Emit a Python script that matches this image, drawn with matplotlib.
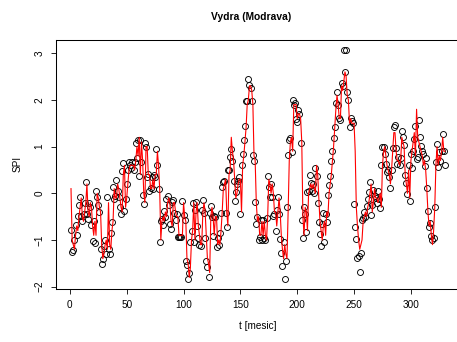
import numpy as np
import matplotlib
matplotlib.use("Agg")
import matplotlib.pyplot as plt

# SPI values for the Vydra (Modrava) station, months 1..330
obs_a = [-0.79, -1.26, -1.22, -1.0, -0.68, -0.9, -0.48, -0.26, -0.09, -0.48,
         -0.6, -0.45, -0.2, 0.24, -0.45, -0.55, -0.2, -0.3, -0.68, -1.03,
         -0.6, -1.06, 0.05, -0.09, -0.25, -0.4, -1.19, -1.52, -1.4, -1.12,
         -1.0, -1.3, -0.09, -1.2, -1.3, -0.85, -0.62, 0.13, -0.12, -0.05,
         0.29, 0.05, -0.08, -0.3, -0.45, 0.48, 0.65, -0.37, -0.13, 0.2,
         0.49, 0.66, 0.6, 0.55, 0.66, 0.5, 0.66, 1.07, 0.75, 1.15,
         0.36, 1.15, 0.66, -0.04, -0.23, 1.07, 1.0, 0.35, 0.42, 0.04,
         0.12, 0.35, 0.1, 0.4, 0.35, 0.94, 0.6, 0.1, -1.04, -0.6,
         -0.55, -0.68, -0.38, -0.5, -0.13, -0.06, -0.25, -0.65, -0.77, -0.18,
         -0.15, -0.43, -0.58, -0.45, -0.94, -0.94, -0.94, -0.94, -0.16, -0.47,
         -0.58, -1.45, -1.54, -1.84, -1.7, -1.04, -0.81, -0.2]
obs_b = [-1.04, -0.35, -0.18, -0.7, -0.96, -1.1, -1.12, -0.35, -0.14, -0.42,
         -0.96, -1.45, -1.57, -1.79, -0.42, -0.27, -0.5, -0.92, -0.48, -0.5,
         -1.15, -0.96, -1.1, -0.84, -0.42, 0.13, 0.25, 0.27, -0.43, -0.72,
         0.49, 0.49, 0.78, 0.95, 0.7, 0.27, -0.16, 0.02, 0.2, 0.27,
         0.35, -0.45, 0.6, 0.85, 1.15, 1.45, 1.97, 1.97, 2.44, 2.33,
         2.25, 1.97, 0.81, 0.7, -0.19, -0.65, -0.5, -1.0]
obs_c = [-0.93, -0.57, -0.99, -0.57, -0.96, -1.0, -0.52, 0.38, 0.13, -0.07,
         0.2, -0.07, -0.48, -0.45, -0.8, -0.36, -0.07, -0.45, -0.97, -1.28,
         -1.56, -1.05, -1.84, -1.45, -0.3, 0.81, 1.15, 1.19, 0.89, 2.0,
         1.9, 1.93, 1.6, 1.52, 1.78, 1.7, 1.07, -0.58, -0.95, -0.3,
         -0.44, -0.83, 0.03, 0.05, 0.4, 0.22, 0.05, 0.2, 0.0, 0.55,
         0.38, -0.2, -0.62, -0.87, -1.13, -0.65, -0.43]
obs_d = [-1.04, -0.45, -0.61, -0.04, 0.17, 0.38, 0.69, 0.9, 1.18, 1.41,
         1.94, 2.16, 1.9, 1.61, 1.58, 2.36, 2.29, 3.07, 2.6, 3.07,
         2.16, 2.0, 1.42, 1.61, 1.54, 1.5, -0.23, -0.72, -0.98, -1.38,
         -1.35, -1.68, -1.27, -0.58, -0.53, -0.4, -0.5, -0.28, -0.13, 0.03,
         0.25, -0.47, -0.26, 0.08, -0.06, -0.1, -0.2, 0.05, -0.13, -0.31,
         0.6, 1.0, 1.0, 0.84, 0.63, 0.45]
obs_e = [0.49, 0.35, 0.11, 0.5, 0.96, 1.43, 1.47, 0.96, 0.63, 0.77,
         0.6, 0.75, 1.33, 1.21, 1.03, 0.39, 0.22, -0.02, 0.6, -0.16,
         0.84, 0.55, 0.91, 1.17, 1.45, 0.74, 0.77, 1.58, 1.21, 1.02,
         0.9, 0.84, 0.58, 0.75, 0.11, -0.37, -0.73, -0.64, -0.92, -1.0,
         -0.95, -0.29, 0.68, 1.05, 0.57, 0.88, 0.7, 0.9, 1.27, 0.9,
         0.6]

# modelled SPI (red line)
mod_a = [0.1, -1.0, -1.1, -1.2, -0.9, -0.7, -0.8, -0.5, -0.3, -0.1,
         -0.5, -0.6, -0.4, -0.2, 0.2, -0.4, -0.5, -0.2, -0.3, -0.7,
         -0.9, -0.6, -0.9, 0.0, -0.1, -0.3, -0.4, -1.1, -1.4, -1.3,
         -1.1, -1.0, -1.2, -0.2, -1.1, -1.2, -0.8, -0.6, 0.1, -0.1,
         -0.1, 0.2, 0.1, -0.1, -0.3, -0.4, 0.4, 0.6, -0.3, -0.1,
         0.2, 0.5, 0.6, 0.6, 0.6, 0.6, 0.5, 0.7, 1.0, 0.8,
         1.2, 0.4, 1.1, 0.7, 0.0, -0.2, 1.0, 1.0, 0.4, 0.4,
         0.1, 0.1, 0.3, 0.1, 0.4, 0.4, 0.9, 0.6, 0.1, -1.0,
         -0.6, -0.5, -0.6, -0.4, -0.5, -0.2, -0.1, -0.2, -0.6, -0.7,
         -0.2, -0.2, -0.4, -0.5, -0.5, -0.9, -0.9, -0.9, -0.9, -0.2,
         -0.5, -0.6, -1.4, -1.5, -1.8, -1.6, -1.0, -0.8]
mod_b = [-0.2, -1.0, -0.4, -0.2, -0.7, -0.9, -1.1, -1.1, -0.4, -0.2,
         -0.4, -0.9, -1.4, -1.5, -1.7, -0.5, -0.3, -0.5, -0.9, -0.5,
         -0.5, -1.1, -1.0, -1.1, -0.8, -0.4, 0.1, 0.2, 0.3, -0.4,
         -0.7, 0.4, 0.5, 1.2, 0.9, 0.7, 0.3, -0.1, 0.0, 0.2,
         0.3, 0.3, -0.4, 0.6, 0.8, 1.1, 1.4, 1.9, 2.0, 2.3,
         2.3, 2.2, 1.9, 0.8, 0.7, -0.2, -0.6, -0.5]
mod_c = [-0.9, -0.9, -0.6, -0.9, -0.6, -0.9, -1.0, -0.5, 0.3, 0.2,
         0.0, 0.2, 0.0, -0.4, -0.4, -0.7, -0.4, -0.1, -0.4, -0.9,
         -1.2, -1.4, -1.1, -1.3, -1.4, -0.4, 0.7, 1.1, 1.2, 0.9,
         1.9, 1.9, 1.9, 1.6, 1.7, 1.7, 1.6, 1.1, -0.5, -0.9,
         -0.3, -0.4, -0.8, 0.0, 0.1, 0.2, 0.1, 0.2, 0.1, 0.0,
         0.6, 0.4, -0.1, -0.6, -0.8, -1.0, -0.7]
mod_d = [-0.6, -0.9, -0.4, -0.5, 0.0, 0.2, 0.4, 0.7, 1.0, 1.4,
         1.8, 2.1, 1.9, 1.6, 1.6, 2.3, 2.2, 2.4, 2.6, 2.5,
         2.1, 2.0, 1.5, 1.6, 1.5, 1.5, 1.5, 0.9, -0.3, -0.7,
         -1.0, -1.2, -1.1, -1.0, -0.6, -0.5, -0.4, -0.5, -0.3, -0.2,
         0.0, 0.2, -0.4, -0.2, 0.1, -0.1, -0.1, -0.2, -0.1, 0.0,
         -0.3, 0.6, 0.9, 1.0, 0.8, 0.6]
mod_e = [0.5, 0.4, 0.2, 0.5, 0.9, 1.3, 1.3, 0.9, 0.7, 0.7,
         0.6, 0.7, 1.2, 1.1, 1.0, 0.4, 0.2, 0.0, 0.5, -0.1,
         0.7, 0.9, 1.1, 1.3, 0.8, 1.8, 1.2, 1.1, 1.0, 0.9,
         0.8, 0.6, 0.7, 0.5, 0.1, -0.4, -0.7, -0.6, -0.9, -1.1,
         -0.8, -0.3, 0.6, 1.0, 0.6, 0.8, 0.7, 0.9, 1.2, 0.9,
         0.9]

spi_obs = np.array(obs_a + obs_b + obs_c + obs_d + obs_e)
spi_mod = np.array(mod_a + mod_b + mod_c + mod_d + mod_e)
t = np.arange(1, len(spi_obs) + 1)

plt.rcParams["font.family"] = ["Liberation Sans", "DejaVu Sans"]

W, H = 457, 342
fig = plt.figure(figsize=(W / 100, H / 100), dpi=100)
ax = fig.add_axes([56 / W, 1 - 289 / H, 404 / W, (289 - 39.7) / H])

ax.plot(t, spi_obs, linestyle="none", marker="o", markersize=4.3,
        markerfacecolor="none", markeredgecolor="black",
        markeredgewidth=0.65, zorder=2)
ax.plot(t, spi_mod, color="red", linewidth=0.8, zorder=3)

ax.set_xlim(-12.2, 343.2)
ax.set_ylim(-2.05, 3.29)

ax.set_xticks([0, 50, 100, 150, 200, 250, 300])
ax.set_yticks([-2, -1, 0, 1, 2, 3])
ax.set_yticklabels(["\u22122", "\u22121", "0", "1", "2", "3"],
                   rotation=90, va="center")
ax.tick_params(axis="both", direction="out", length=3.6, width=0.6,
               labelsize=7.2, pad=4.5, color="black")

# the right side of the box falls outside the saved image
ax.spines["right"].set_visible(False)
for side in ("left", "bottom", "top"):
    ax.spines[side].set_linewidth(0.75)
    ax.spines[side].set_color("black")

fig.text(251 / W, 1 - 17 / H, "Vydra (Modrava)", ha="center", va="center",
         fontsize=7.4, fontweight="bold")
fig.text(258 / W, 1 - 326 / H, "t [mesic]", ha="center", va="center",
         fontsize=7.2)
fig.text(18 / W, 1 - 164 / H, "SPI", ha="center", va="center",
         rotation=90, fontsize=7.2)

fig.savefig("out.png", dpi=100)
